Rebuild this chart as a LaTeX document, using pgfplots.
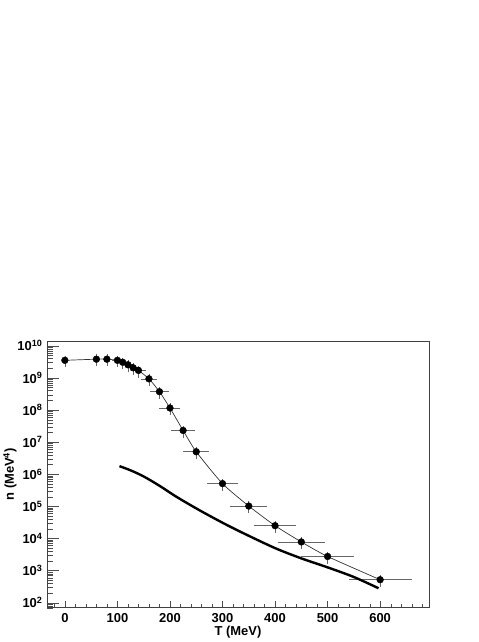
\documentclass[border=0pt]{standalone}
\usepackage{fontspec}
\setmainfont{Liberation Sans}
\usepackage{pgfplots}
\pgfplotsset{compat=1.18}

% data points: T (MeV), n (MeV^4); errors relative (10% in T, 40% in n)
\pgfplotstableread{
T     n       ex    ey
0     3.5e9   0.0   0.4
60    3.8e9   0.1   0.4
80    3.8e9   0.1   0.4
100   3.5e9   0.1   0.4
110   3.05e9  0.1   0.4
120   2.55e9  0.1   0.4
130   2.05e9  0.1   0.4
140   1.7e9   0.1   0.4
160   9.3e8   0.1   0.4
180   3.7e8   0.1   0.4
200   1.15e8  0.1   0.4
225   2.3e7   0.1   0.4
250   5.0e6   0.1   0.4
300   5.1e5   0.1   0.4
350   1.02e5  0.1   0.4
400   2.5e4   0.1   0.4
450   7.8e3   0.1   0.4
500   2.75e3  0.1   0.4
600   5.2e2   0.1   0.4
}\datapts

% thick curve
\pgfplotstableread{
T     n
104   1.78e6
125   1.32e6
150   8.51e5
180   4.37e5
213   1.95e5
256   7.59e4
300   3.09e4
340   1.45e4
400   5.01e3
450   2.40e3
500   1.26e3
550   6.31e2
597   2.82e2
}\curve

\begin{document}
\fontsize{13}{15}\selectfont
\begin{tikzpicture}[x=1bp,y=1bp]
\path[use as bounding box] (0,0) rectangle (479,642);
\begin{axis}[
  at={(47bp,34.3bp)}, anchor=south west,
  scale only axis, width=382bp, height=266.7bp,
  ymode=log, log basis y=10,
  xmin=-34, xmax=693, ymin=70, ymax=1.4e10,
  xtick={0,100,200,300,400,500,600},
  minor xtick={-20,20,40,60,80,120,140,160,180,220,240,260,280,320,340,360,380,420,440,460,480,520,540,560,580,620,640,660,680},
  ytick={1e2,1e3,1e4,1e5,1e6,1e7,1e8,1e9,1e10},
  minor ytick={7e1,8e1,9e1,
    2e2,3e2,4e2,5e2,6e2,7e2,8e2,9e2,
    2e3,3e3,4e3,5e3,6e3,7e3,8e3,9e3,
    2e4,3e4,4e4,5e4,6e4,7e4,8e4,9e4,
    2e5,3e5,4e5,5e5,6e5,7e5,8e5,9e5,
    2e6,3e6,4e6,5e6,6e6,7e6,8e6,9e6,
    2e7,3e7,4e7,5e7,6e7,7e7,8e7,9e7,
    2e8,3e8,4e8,5e8,6e8,7e8,8e8,9e8,
    2e9,3e9,4e9,5e9,6e9,7e9,8e9,9e9},
  yticklabels={10\textsuperscript{2},10\textsuperscript{3},10\textsuperscript{4},10\textsuperscript{5},10\textsuperscript{6},10\textsuperscript{7},10\textsuperscript{8},10\textsuperscript{9},10\textsuperscript{10}},
  tick pos=left,
  tick align=inside,
  xtick style={/pgfplots/major tick length=6.7bp,/pgfplots/minor tick length=3.5bp,black!70},
  ytick style={/pgfplots/major tick length=12bp,/pgfplots/minor tick length=6bp,black!70},
  /pgf/number format/assume math mode=true,
  tick label style={font=\fontsize{13}{15}\selectfont\bfseries},
  xticklabel style={yshift=-1bp},
  label style={font=\fontsize{13}{15}\selectfont\bfseries},
  xlabel={T (MeV)},
  ylabel={n (MeV\textsuperscript{4})},
  xlabel style={at={(axis description cs:0.5,-0.093)},anchor=center},
  ylabel style={at={(axis description cs:-0.097,0.5)},anchor=center,rotate=0},
  axis line style={black!75,line width=0.8bp},
  clip=false,
]
\addplot[black!80, line width=0.7bp, smooth, tension=0.4, no marks] table[x=T,y=n] {\datapts};
\addplot[only marks, mark=*, mark size=3.4bp, mark options={black, fill=black},
  error bars/.cd, x dir=both, y dir=both, x explicit relative, y explicit relative,
  error mark=none, error bar style={black!60, line width=0.6bp}]
  table[x=T,y=n,x error=ex,y error=ey] {\datapts};
\addplot[black, line width=2.4bp, smooth, tension=0.5, no marks] table[x=T,y=n] {\curve};
\end{axis}
\end{tikzpicture}
\end{document}
